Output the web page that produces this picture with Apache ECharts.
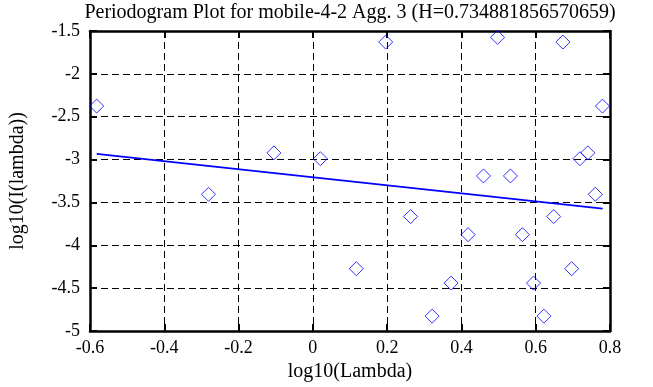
<!DOCTYPE html>
<html>
<head>
<meta charset="utf-8">
<script src="https://cdn.jsdelivr.net/npm/echarts@6/dist/echarts.min.js"></script>
<style>
html,body{margin:0;padding:0;background:#fff;}
#chart{width:653px;height:387px;}
</style>
</head>
<body>
<div id="chart"></div>
<script>
var titleText = 'Periodogram Plot for mobile-4-2 Agg. 3 (H=0.734881856570659)';
var xName = 'log10(Lambda)';
var yName = 'log10(I(lambda))';
var lambdaLog = [-0.58203, -0.28100, -0.10491, 0.02003, 0.11694, 0.19612, 0.26307, 0.32106, 0.37221, 0.41797, 0.45936, 0.49715, 0.53191, 0.56410, 0.59406, 0.62209, 0.64842, 0.67324, 0.69672, 0.71900, 0.74019, 0.76039, 0.77970];
var periodogramLog = [-2.376, -3.405, -2.922, -2.99, -4.273, -1.629, -3.665, -4.827, -4.441, -3.876, -3.191, -1.574, -3.191, -3.876, -4.441, -4.827, -3.665, -1.629, -4.273, -2.99, -2.922, -3.405, -2.376];
var fitX = [-0.582, 0.780];
var fitY = [-2.934, -3.572];

var pts = lambdaLog.map(function(x, i){ return [x, periodogramLog[i]]; });
var fit = fitX.map(function(x, i){ return [x, fitY[i]]; });

var FONT = 'Liberation Serif';
var chart = echarts.init(document.getElementById('chart'), null, {renderer:'canvas'});
var dash = [7, 4];
var frame = {color: '#000', width: 2.5};
chart.setOption({
  animation: false,
  backgroundColor: '#fff',
  title: {
    text: titleText,
    left: 345, top: -2, textAlign: 'center',
    textStyle: {fontFamily: FONT, fontSize: 20, fontWeight: 'normal', color: '#000'}
  },
  grid: {left: 82, right: 43, top: 31, bottom: 56, containLabel: false},
  xAxis: [{
    type: 'value', min: -0.6, max: 0.8, interval: 0.2, position: 'bottom',
    name: xName, nameLocation: 'middle', nameGap: 29,
    nameTextStyle: {fontFamily: FONT, fontSize: 20, color: '#000'},
    axisLine: {show: true, onZero: false, lineStyle: frame},
    axisTick: {show: true, inside: true, length: 7, lineStyle: {color: '#000', width: 2}},
    axisLabel: {fontFamily: FONT, fontSize: 18, color: '#000', margin: 8},
    splitLine: {show: true, lineStyle: {color: '#000', width: 1, type: dash}}
  }, {
    type: 'value', min: -0.6, max: 0.8, interval: 0.2, position: 'top',
    axisLine: {show: true, onZero: false, lineStyle: frame},
    axisTick: {show: true, inside: true, length: 7, lineStyle: {color: '#000', width: 2}},
    axisLabel: {show: false},
    splitLine: {show: false}
  }],
  yAxis: [{
    type: 'value', min: -5, max: -1.5, interval: 0.5, position: 'left',
    name: yName, nameLocation: 'middle', nameGap: 62, nameRotate: 90,
    nameTextStyle: {fontFamily: FONT, fontSize: 20, color: '#000'},
    axisLine: {show: true, onZero: false, lineStyle: frame},
    axisTick: {show: true, inside: true, length: 7, lineStyle: {color: '#000', width: 2}},
    axisLabel: {fontFamily: FONT, fontSize: 18, color: '#000', margin: 10},
    splitLine: {show: true, lineStyle: {color: '#000', width: 1, type: dash}}
  }, {
    type: 'value', min: -5, max: -1.5, interval: 0.5, position: 'right',
    axisLine: {show: true, onZero: false, lineStyle: frame},
    axisTick: {show: true, inside: true, length: 7, lineStyle: {color: '#000', width: 2}},
    axisLabel: {show: false},
    splitLine: {show: false}
  }],
  series: [{
    type: 'scatter', xAxisIndex: 0, yAxisIndex: 0,
    data: pts, symbol: 'diamond', symbolSize: 14,
    itemStyle: {color: 'rgba(0,0,0,0)', borderColor: '#0000ff', borderWidth: 1},
    emphasis: {disabled: true}, z: 3
  }, {
    type: 'line', xAxisIndex: 0, yAxisIndex: 0,
    data: fit, showSymbol: false, symbol: 'none',
    lineStyle: {color: '#0000ff', width: 1.6},
    emphasis: {disabled: true}, z: 4
  }]
});
</script>
</body>
</html>
